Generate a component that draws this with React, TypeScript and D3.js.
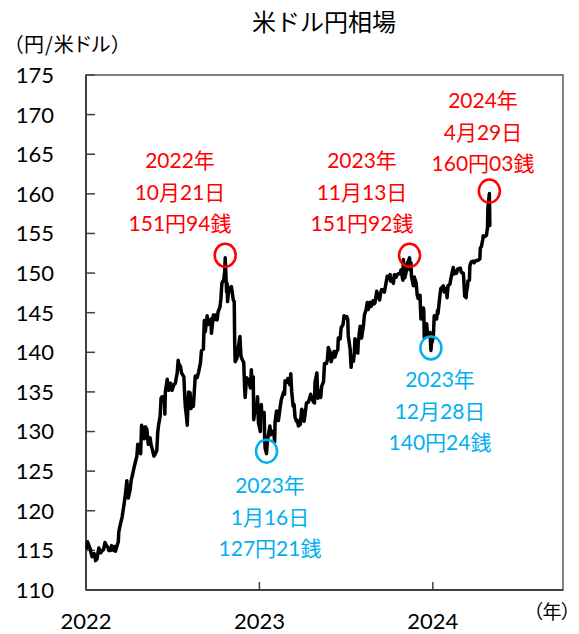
import React from "react";
import * as d3 from "d3";

const yTicks = [110, 115, 120, 125, 130, 135, 140, 145, 150, 155, 160, 165, 170, 175];
const xTickYears = ["2022", "2023", "2024"];

const data2022: [string, number][] = [
  ["2022-01-03", 115.3], ["2022-01-04", 116.1], ["2022-01-06", 115.8], ["2022-01-10", 115.2], ["2022-01-12", 114.6],
  ["2022-01-14", 114.2], ["2022-01-18", 114.6], ["2022-01-20", 114.3], ["2022-01-21", 113.7], ["2022-01-24", 113.9],
  ["2022-01-26", 114.6], ["2022-01-28", 115.3], ["2022-02-01", 114.7], ["2022-02-03", 114.9], ["2022-02-07", 115.1],
  ["2022-02-10", 116.0], ["2022-02-14", 115.5], ["2022-02-16", 115.4], ["2022-02-18", 115.0], ["2022-02-22", 115.0],
  ["2022-02-24", 115.6], ["2022-02-28", 115.0], ["2022-03-02", 115.5], ["2022-03-04", 114.9], ["2022-03-08", 115.7],
  ["2022-03-10", 116.1], ["2022-03-11", 117.3], ["2022-03-14", 118.2], ["2022-03-16", 118.7], ["2022-03-18", 119.2],
  ["2022-03-22", 120.8], ["2022-03-24", 121.6], ["2022-03-25", 122.1], ["2022-03-28", 123.8], ["2022-03-29", 122.8],
  ["2022-03-31", 121.6], ["2022-04-04", 122.7], ["2022-04-06", 123.8], ["2022-04-08", 124.3], ["2022-04-12", 125.4],
  ["2022-04-14", 125.9], ["2022-04-18", 126.9], ["2022-04-20", 128.4], ["2022-04-21", 128.3], ["2022-04-25", 128.1],
  ["2022-04-26", 127.2], ["2022-04-28", 130.8], ["2022-05-02", 130.1], ["2022-05-04", 129.1], ["2022-05-06", 130.6],
  ["2022-05-09", 130.3], ["2022-05-12", 128.4], ["2022-05-16", 129.2], ["2022-05-18", 128.3], ["2022-05-20", 127.9],
  ["2022-05-24", 126.9], ["2022-05-26", 127.1], ["2022-05-30", 127.6], ["2022-06-01", 129.9], ["2022-06-03", 130.9],
  ["2022-06-06", 131.9], ["2022-06-08", 134.2], ["2022-06-10", 134.4], ["2022-06-13", 134.4], ["2022-06-15", 134.0],
  ["2022-06-16", 132.2], ["2022-06-17", 135.0], ["2022-06-21", 136.6], ["2022-06-24", 135.2], ["2022-06-28", 136.1],
  ["2022-06-30", 135.7], ["2022-07-01", 135.2], ["2022-07-05", 135.9], ["2022-07-08", 136.1], ["2022-07-12", 137.4],
  ["2022-07-14", 139.0], ["2022-07-15", 138.6], ["2022-07-19", 138.2], ["2022-07-21", 137.4], ["2022-07-26", 136.9],
  ["2022-07-28", 134.2], ["2022-07-29", 133.2], ["2022-08-01", 131.6], ["2022-08-02", 130.8], ["2022-08-04", 133.9],
  ["2022-08-05", 135.0], ["2022-08-08", 134.9], ["2022-08-10", 132.9], ["2022-08-12", 133.4], ["2022-08-15", 133.2],
  ["2022-08-17", 135.1], ["2022-08-19", 137.0], ["2022-08-23", 136.8], ["2022-08-26", 137.5], ["2022-08-30", 138.7],
  ["2022-09-01", 140.2], ["2022-09-05", 140.4], ["2022-09-07", 144.0], ["2022-09-09", 142.6], ["2022-09-13", 144.6],
  ["2022-09-15", 143.5], ["2022-09-20", 143.8], ["2022-09-21", 144.2], ["2022-09-22", 142.4], ["2022-09-26", 144.7],
  ["2022-09-28", 144.1], ["2022-09-30", 144.7], ["2022-10-04", 144.1], ["2022-10-06", 145.1], ["2022-10-10", 145.7],
  ["2022-10-12", 146.8], ["2022-10-14", 148.7], ["2022-10-18", 149.2], ["2022-10-20", 150.2], ["2022-10-21", 151.94],
  ["2022-10-24", 147.6], ["2022-10-25", 148.7], ["2022-10-26", 146.4], ["2022-10-28", 147.6], ["2022-11-01", 148.2],
  ["2022-11-03", 148.3], ["2022-11-07", 146.6], ["2022-11-09", 146.4], ["2022-11-10", 141.0], ["2022-11-11", 138.8],
  ["2022-11-15", 139.3], ["2022-11-17", 140.4], ["2022-11-21", 142.0], ["2022-11-23", 139.6], ["2022-11-25", 139.2],
  ["2022-11-29", 138.7], ["2022-12-01", 135.3], ["2022-12-02", 134.3], ["2022-12-05", 136.8], ["2022-12-07", 136.6],
  ["2022-12-09", 136.6], ["2022-12-13", 135.5], ["2022-12-15", 137.8], ["2022-12-16", 136.7], ["2022-12-19", 136.9],
  ["2022-12-20", 131.5], ["2022-12-22", 132.4], ["2022-12-23", 132.8], ["2022-12-27", 133.5], ["2022-12-28", 134.4],
  ["2022-12-30", 131.1],
];

const data2023: [string, number][] = [
  ["2023-01-03", 130.0], ["2023-01-04", 132.6], ["2023-01-05", 133.4], ["2023-01-06", 132.1], ["2023-01-10", 132.2],
  ["2023-01-11", 132.4], ["2023-01-12", 129.2], ["2023-01-13", 127.9], ["2023-01-16", 127.21], ["2023-01-17", 128.1],
  ["2023-01-18", 128.9], ["2023-01-20", 129.6], ["2023-01-23", 130.7], ["2023-01-25", 129.6], ["2023-01-27", 129.9],
  ["2023-01-31", 130.1], ["2023-02-02", 128.7], ["2023-02-03", 131.2], ["2023-02-06", 132.6], ["2023-02-08", 131.4],
  ["2023-02-10", 131.4], ["2023-02-14", 133.2], ["2023-02-16", 134.0], ["2023-02-17", 134.2], ["2023-02-21", 135.0],
  ["2023-02-23", 134.7], ["2023-02-24", 136.4], ["2023-02-28", 136.2], ["2023-03-02", 136.7], ["2023-03-06", 135.9],
  ["2023-03-08", 137.3], ["2023-03-10", 135.0], ["2023-03-13", 133.2], ["2023-03-15", 133.4], ["2023-03-17", 131.8],
  ["2023-03-20", 131.3], ["2023-03-22", 131.4], ["2023-03-24", 130.7], ["2023-03-28", 130.9], ["2023-03-31", 132.8],
  ["2023-04-03", 132.5], ["2023-04-05", 131.3], ["2023-04-07", 132.1], ["2023-04-10", 133.6], ["2023-04-12", 133.7],
  ["2023-04-14", 133.7], ["2023-04-19", 134.7], ["2023-04-21", 134.2], ["2023-04-25", 133.7], ["2023-04-27", 133.6],
  ["2023-04-28", 136.2], ["2023-05-02", 137.4], ["2023-05-04", 134.2], ["2023-05-08", 135.1], ["2023-05-10", 134.3],
  ["2023-05-12", 135.7], ["2023-05-16", 136.3], ["2023-05-18", 138.6], ["2023-05-22", 138.6], ["2023-05-24", 139.0],
  ["2023-05-26", 140.6], ["2023-05-30", 140.0], ["2023-06-01", 138.8], ["2023-06-05", 139.6], ["2023-06-07", 140.1],
  ["2023-06-09", 139.4], ["2023-06-13", 140.2], ["2023-06-15", 140.3], ["2023-06-16", 141.8], ["2023-06-20", 141.7],
  ["2023-06-22", 143.1], ["2023-06-26", 143.5], ["2023-06-28", 144.6], ["2023-06-30", 144.3], ["2023-07-04", 144.5],
  ["2023-07-06", 144.1], ["2023-07-07", 142.1], ["2023-07-11", 140.4], ["2023-07-13", 138.1], ["2023-07-14", 138.8],
  ["2023-07-18", 138.9], ["2023-07-20", 140.1], ["2023-07-21", 141.7], ["2023-07-25", 140.9], ["2023-07-27", 139.9],
  ["2023-07-28", 141.2], ["2023-08-01", 143.3], ["2023-08-03", 142.6], ["2023-08-04", 141.8], ["2023-08-08", 143.4],
  ["2023-08-10", 144.7], ["2023-08-14", 145.5], ["2023-08-16", 146.3], ["2023-08-18", 145.4], ["2023-08-22", 146.3],
  ["2023-08-24", 145.8], ["2023-08-28", 146.5], ["2023-08-30", 146.1], ["2023-09-01", 146.2], ["2023-09-05", 147.7],
  ["2023-09-07", 147.3], ["2023-09-11", 146.6], ["2023-09-13", 147.4], ["2023-09-15", 147.9], ["2023-09-19", 147.9],
  ["2023-09-21", 147.6], ["2023-09-25", 148.9], ["2023-09-27", 149.6], ["2023-09-29", 149.3], ["2023-10-03", 149.8],
  ["2023-10-04", 149.0], ["2023-10-06", 149.3], ["2023-10-10", 148.7], ["2023-10-12", 149.8], ["2023-10-16", 149.5],
  ["2023-10-18", 149.8], ["2023-10-20", 149.9], ["2023-10-24", 149.9], ["2023-10-26", 150.4], ["2023-10-30", 149.1],
  ["2023-10-31", 151.7], ["2023-11-02", 150.4], ["2023-11-03", 149.4], ["2023-11-07", 150.4], ["2023-11-09", 151.3],
  ["2023-11-13", 151.92], ["2023-11-14", 150.4], ["2023-11-16", 151.3], ["2023-11-17", 149.6], ["2023-11-21", 148.4],
  ["2023-11-23", 149.5], ["2023-11-27", 148.7], ["2023-11-29", 147.3], ["2023-12-01", 146.8], ["2023-12-05", 147.2],
  ["2023-12-07", 144.2], ["2023-12-08", 144.9], ["2023-12-12", 145.6], ["2023-12-13", 145.3], ["2023-12-14", 141.8],
  ["2023-12-18", 142.8], ["2023-12-19", 143.6], ["2023-12-21", 142.1], ["2023-12-26", 142.5], ["2023-12-28", 140.24],
  ["2023-12-29", 141.0],
];

const data2024: [string, number][] = [
  ["2024-01-02", 141.9], ["2024-01-04", 144.6], ["2024-01-05", 144.6], ["2024-01-09", 144.2], ["2024-01-11", 145.3],
  ["2024-01-12", 144.9], ["2024-01-16", 147.2], ["2024-01-18", 148.1], ["2024-01-19", 148.1], ["2024-01-23", 148.4],
  ["2024-01-25", 147.6], ["2024-01-26", 148.1], ["2024-01-30", 147.6], ["2024-01-31", 146.9], ["2024-02-02", 148.4],
  ["2024-02-06", 148.6], ["2024-02-08", 149.3], ["2024-02-13", 150.7], ["2024-02-15", 149.9], ["2024-02-16", 150.2],
  ["2024-02-20", 150.0], ["2024-02-22", 150.5], ["2024-02-26", 150.6], ["2024-02-28", 150.6], ["2024-03-01", 150.1],
  ["2024-03-05", 150.0], ["2024-03-06", 149.4], ["2024-03-08", 147.1], ["2024-03-11", 146.9], ["2024-03-12", 147.7],
  ["2024-03-14", 148.3], ["2024-03-15", 149.0], ["2024-03-18", 149.1], ["2024-03-19", 150.9], ["2024-03-21", 151.3],
  ["2024-03-22", 151.4], ["2024-03-26", 151.5], ["2024-03-28", 151.3], ["2024-04-01", 151.6], ["2024-04-03", 151.6],
  ["2024-04-05", 151.6], ["2024-04-09", 151.8], ["2024-04-10", 153.2], ["2024-04-12", 153.3], ["2024-04-15", 154.2],
  ["2024-04-16", 154.7], ["2024-04-18", 154.6], ["2024-04-19", 154.6], ["2024-04-23", 154.8], ["2024-04-24", 155.3],
  ["2024-04-25", 155.6], ["2024-04-26", 158.3], ["2024-04-29", 160.03], ["2024-04-30", 156.0],
];

type Note = { date: string; value: number; color: string; lines: string[]; cx: number; base: number };

const annotations: Note[] = [
  { date: "2022-10-21", value: 151.94, color: "#FF0000", lines: ["2022年", "10月21日", "151円94銭"], cx: 180, base: 168 },
  { date: "2023-01-16", value: 127.21, color: "#00B0F0", lines: ["2023年", "1月16日", "127円21銭"], cx: 270, base: 493 },
  { date: "2023-11-13", value: 151.92, color: "#FF0000", lines: ["2023年", "11月13日", "151円92銭"], cx: 362, base: 168 },
  { date: "2023-12-28", value: 140.24, color: "#00B0F0", lines: ["2023年", "12月28日", "140円24銭"], cx: 440, base: 387 },
  { date: "2024-04-29", value: 160.03, color: "#FF0000", lines: ["2024年", "4月29日", "160円03銭"], cx: 483, base: 108 },
];

const parse = d3.timeParse("%Y-%m-%d");

export default function App() {
  const W = 579, H = 634;
  const left = 86, right = 563, top = 75, bottom = 590;
  const x = d3.scaleTime().domain([parse("2022-01-01")!, parse("2024-10-01")!]).range([left, right]);
  const y = d3.scaleLinear().domain([110, 175]).range([bottom, top]);
  const all = [...data2022, ...data2023, ...data2024].map(([d, v]) => ({ d: parse(d)!, v }));
  const line = d3.line<{ d: Date; v: number }>().x((p) => x(p.d)).y((p) => y(p.v));
  const numFont = "Lato, 'Noto Sans CJK JP', sans-serif";
  const jpFont = "Lato, 'Noto Sans CJK JP', sans-serif";

  return (
    <svg width={W} height={H} style={{ position: "absolute", left: 0, top: 0, background: "#fff" }}>
      <text x={324} y={31} textAnchor="middle" fontSize={24} fontFamily="'Noto Sans CJK JP', sans-serif" fill="#000">
        米ドル円相場
      </text>
      <text x={13} y={52} fontSize={20} letterSpacing={1} fontFamily="'Noto Sans CJK JP', sans-serif" fill="#000" style={{ fontFeatureSettings: '"palt"' }}>
        （円/米ドル）
      </text>
      <text x={571} y={619} textAnchor="end" fontSize={19} fontFamily="'Noto Sans CJK JP', sans-serif" fill="#000" style={{ fontFeatureSettings: '"palt"' }}>
        （年）
      </text>

      <rect x={left} y={top} width={right - left} height={bottom - top} fill="none" stroke="#595959" strokeWidth={1.5} />
      <line x1={left} x2={left} y1={top} y2={bottom} stroke="#404040" strokeWidth={2} />
      <line x1={left} x2={right} y1={bottom} y2={bottom} stroke="#404040" strokeWidth={2} />

      {yTicks.map((t) => (
        <g key={t}>
          <line x1={left} x2={left + 9} y1={y(t)} y2={y(t)} stroke="#404040" strokeWidth={1.5} />
          <text x={54} y={y(t)} dy="0.36em" textAnchor="end" fontSize={22} fontFamily={numFont} fill="#000">
            {t}
          </text>
        </g>
      ))}
      {xTickYears.map((yr) => {
        const xv = x(parse(`${yr}-01-01`)!);
        return (
          <g key={yr}>
            <line x1={xv} x2={xv} y1={bottom} y2={bottom - 8} stroke="#404040" strokeWidth={1.5} />
            <text x={xv} y={629} textAnchor="middle" fontSize={22} fontFamily={numFont} fill="#000">
              {yr}
            </text>
          </g>
        );
      })}

      <path d={line(all) || ""} fill="none" stroke="#000" strokeWidth={3.5} strokeLinejoin="round" strokeLinecap="round" />

      {annotations.map((a) => {
        const px = x(parse(a.date)!);
        const py = y(a.value) - 2.5;
        return (
          <g key={a.date}>
            <ellipse cx={px} cy={py} rx={10.5} ry={11.5} fill="none" stroke={a.color} strokeWidth={2.5} />
            {a.lines.map((s, i) => (
              <text key={i} x={a.cx} y={a.base + i * 31.5} textAnchor="middle" fontSize={21} fontFamily={jpFont} fill={a.color}>
                {s}
              </text>
            ))}
          </g>
        );
      })}
    </svg>
  );
}
